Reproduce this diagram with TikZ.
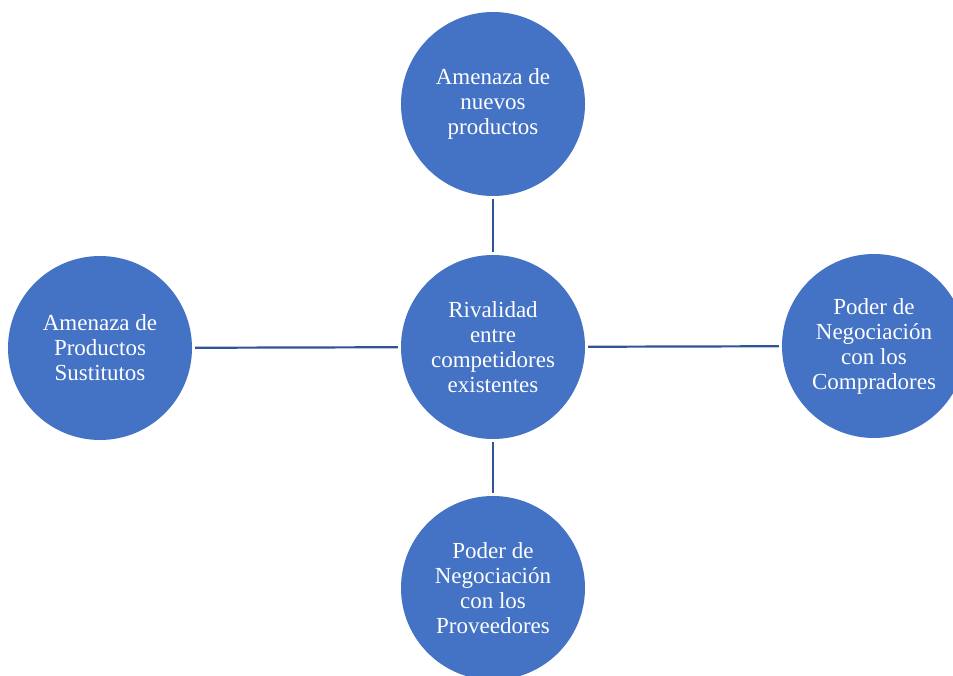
\documentclass[tikz,border=0pt]{standalone}
\usepackage{fontspec}
\setmainfont{Liberation Serif}
\definecolor{cfill}{HTML}{4472C4}
\definecolor{cline}{HTML}{2F5597}
\begin{document}
\begin{tikzpicture}[x=1pt,y=-1pt,
  force/.style={circle,fill=cfill,minimum size=184pt,inner sep=0pt,text=white,
    align=center,font=\fontsize{23}{25}\selectfont},
  link/.style={cline,line width=2.2pt,shorten <=3pt,shorten >=3pt}]
\useasboundingbox (0,0) rectangle (953,676);
\node[force] (c) at (493,347) {Rivalidad\\entre\\competidores\\existentes};
\node[force] (t) at (493,104) {Amenaza de\\nuevos\\productos};
\node[force] (l) at (100,348) {Amenaza de\\Productos\\Sustitutos};
\node[force] (r) at (874,346) {Poder de\\Negociación\\con los\\Compradores};
\node[force] (b) at (493,588) {Poder de\\Negociación\\con los\\Proveedores};
\draw[link] (t) -- (c);
\draw[link] (c) -- (b);
\draw[link] (l) -- (c);
\draw[link] (c) -- (r);
\end{tikzpicture}
\end{document}
